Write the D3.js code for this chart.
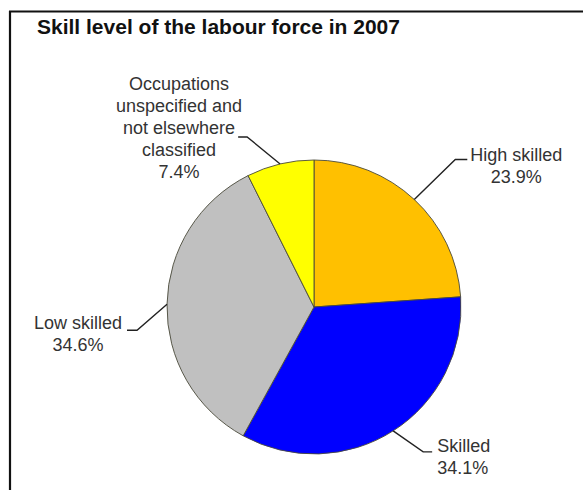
<!DOCTYPE html>
<html>
<head>
<meta charset="utf-8">
<script src="https://cdn.jsdelivr.net/npm/d3@7/dist/d3.min.js"></script>
<style>
  html, body { margin: 0; padding: 0; background: #fff; }
  svg { display: block; }
  text { font-family: "Liberation Sans", Arial, sans-serif; }
</style>
</head>
<body>
<svg id="chart" width="583" height="490"></svg>
<script>
// Skill level shares (%), clockwise from 12 o'clock
const categories = ["High skilled", "Skilled", "Low skilled", "Occupations unspecified and not elsewhere classified"];
const values = [23.9, 34.1, 34.6, 7.4];
const valueLabels = ["23.9%", "34.1%", "34.6%", "7.4%"];
const labelLines = [
  ["High skilled"],
  ["Skilled"],
  ["Low skilled"],
  ["Occupations", "unspecified and", "not elsewhere", "classified"]
];
const colors = ["#FFC000", "#0000FF", "#C0C0C0", "#FFFF00"];

const width = 583, height = 490;
const cx = 314, cy = 307, radius = 147;

// Callout layout: elbow offset from the slice edge, horizontal tail length,
// text anchor relative to the tail end, and which text line sits level with the tail.
const callouts = [
  { elbow: [41, -40], tail: 12,  text: [3, 1],   anchor: "start", align: "center", row: 0 },
  { elbow: [30, 21],  tail: 9,   text: [5, 0],   anchor: "start", align: "start",  row: 0 },
  { elbow: [-30, 26], tail: -10, text: [-5, -1], anchor: "end",   align: "center", row: 0 },
  { elbow: [-33, -27], tail: -9, text: [4, -3],  anchor: "end",   align: "center", row: 2 }
];

const svg = d3.select("#chart");

// Frame lines along the top and left
svg.append("line").attr("x1", 9).attr("x2", width).attr("y1", 11.5).attr("y2", 11.5)
  .attr("stroke", "#111").attr("stroke-width", 2.2);
svg.append("line").attr("x1", 10).attr("x2", 10).attr("y1", 11).attr("y2", height)
  .attr("stroke", "#111").attr("stroke-width", 2.2);

svg.append("text")
  .attr("x", 37).attr("y", 34)
  .attr("font-size", 21).attr("font-weight", "bold").attr("fill", "#111")
  .text("Skill level of the labour force in 2007");

const pie = d3.pie().sort(null).value(d => d);
const arcs = pie(values);
const arc = d3.arc().innerRadius(0).outerRadius(radius);
const edge = d3.arc().innerRadius(radius).outerRadius(radius);

const g = svg.append("g").attr("transform", `translate(${cx},${cy})`);

g.selectAll("path.slice")
  .data(arcs)
  .join("path")
  .attr("class", "slice")
  .attr("d", arc)
  .attr("fill", (d, i) => colors[i])
  .attr("stroke", "#4a4a3a")
  .attr("stroke-width", 0.9);

const lineHeight = 22;

arcs.forEach((d, i) => {
  const c = callouts[i];
  const p0 = edge.centroid(d);
  const p1 = [p0[0] + c.elbow[0], p0[1] + c.elbow[1]];
  const p2 = [p1[0] + c.tail, p1[1]];
  g.append("polyline")
    .attr("points", [p0, p1, p2].map(p => p.join(",")).join(" "))
    .attr("fill", "none").attr("stroke", "#222").attr("stroke-width", 1.4);

  const lines = labelLines[i].concat([valueLabels[i]]);
  const tx = p2[0] + c.text[0];
  const ty = p2[1] + c.text[1] - c.row * lineHeight;

  const t = g.append("text")
    .attr("font-size", 18).attr("fill", "#333");

  if (c.align === "center") {
    // measure the widest line so the block sits beside the tail, lines centred
    const probe = g.append("text").attr("font-size", 18);
    let maxW = 0;
    lines.forEach(s => { probe.text(s); maxW = Math.max(maxW, probe.node().getComputedTextLength()); });
    probe.remove();
    const mid = c.anchor === "end" ? tx - maxW / 2 : tx + maxW / 2;
    t.attr("text-anchor", "middle");
    lines.forEach((s, k) => t.append("tspan").attr("x", mid).attr("y", ty + k * lineHeight).text(s));
  } else {
    t.attr("text-anchor", c.anchor);
    lines.forEach((s, k) => t.append("tspan").attr("x", tx).attr("y", ty + k * lineHeight).text(s));
  }
});
</script>
</body>
</html>
